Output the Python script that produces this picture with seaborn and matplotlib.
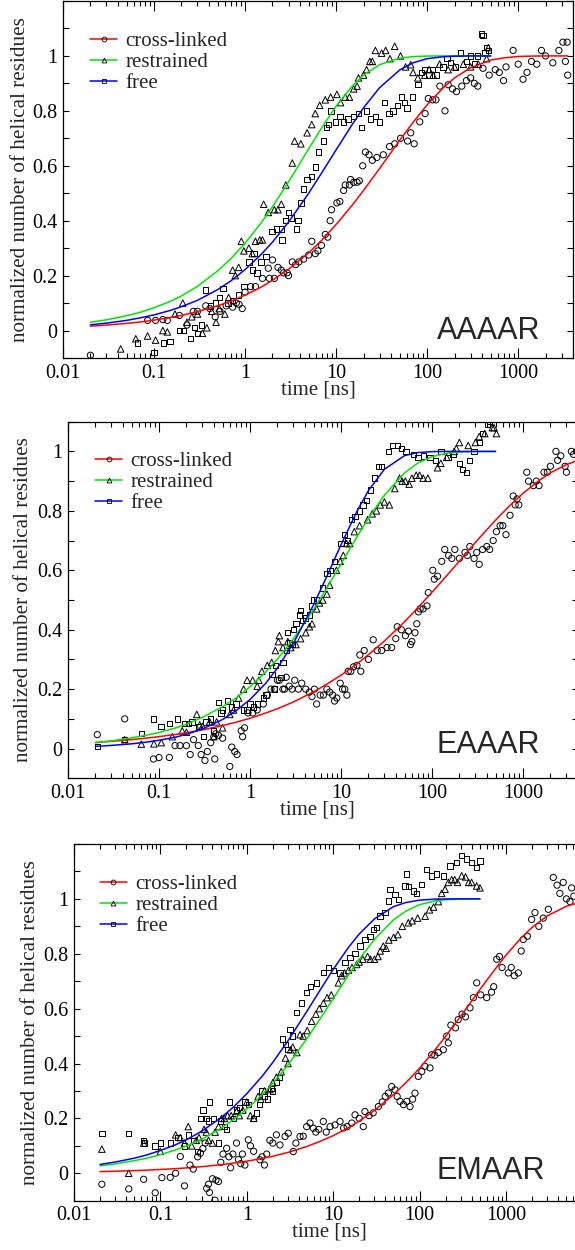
import matplotlib
matplotlib.use("Agg")
import matplotlib.pyplot as plt
from matplotlib.lines import Line2D
from matplotlib.ticker import FixedLocator, FixedFormatter, LogLocator, MultipleLocator, NullFormatter
import pandas as pd
import seaborn as sns

# ---------------------------------------------------------------- data
SERIES = ["cross-linked", "restrained", "free"]
MARKERS = {"cross-linked": "o", "restrained": "^", "free": "s"}
MARKER_SIZES = {"cross-linked": 20, "restrained": 22, "free": 15}
LINE_COLORS = {"cross-linked": "#ff0000", "restrained": "#00e600", "free": "#0000ff"}

X_TICKS = [0.01, 0.1, 1, 10, 100, 1000]
X_TICK_LABELS = ["0.01", "0.1", "1", "10", "100", "1000"]
Y_TICKS = [0, 0.2, 0.4, 0.6, 0.8, 1.0]
Y_TICK_LABELS = ["0", "0.2", "0.4", "0.6", "0.8", "1"]

# times (ns) at which the fitted curves are tabulated
FIT_T = [0.02, 0.03, 0.05, 0.07, 0.1, 0.15, 0.2, 0.3, 0.5, 0.7, 1, 1.5, 2, 3,
         5, 7, 10, 15, 20, 30, 50, 70, 100, 150, 200, 300, 500]
FIT_T_AAAAR_LONG = FIT_T + [700, 1000, 1500, 2000, 3000, 3500]
FIT_T_EAAAR_LONG = FIT_T + [700, 1000, 1500, 2000, 3000, 4000]
FIT_T_EMAAR_LONG = FIT_T + [700, 1000, 1500, 2000, 3000, 5000, 7000, 10000]

# ---- AAAAR
AAAAR_CROSS = [
    (0.02, -0.09), (0.085, 0.037), (0.104, 0.037), (0.125, 0.04), (0.14, 0.037),
    (0.19, 0.055), (0.23, 0.02), (0.27, 0.07), (0.3, 0.07), (0.37, 0.09),
    (0.41, 0.08), (0.47, 0.05), (0.53, 0.07), (0.62, 0.09), (0.73, 0.085),
    (0.8, 0.1), (0.86, 0.095), (0.93, 0.08), (1.0, 0.14), (1.15, 0.16),
    (1.3, 0.16), (1.55, 0.19), (1.8, 0.227), (1.85, 0.19), (2.0, 0.257),
    (2.1, 0.19), (2.3, 0.23), (2.5, 0.22), (2.65, 0.21), (2.9, 0.21),
    (3.0, 0.2), (3.3, 0.25), (3.6, 0.24), (3.9, 0.25), (4.4, 0.26),
    (5.0, 0.275), (5.4, 0.325), (5.9, 0.28), (6.3, 0.29), (6.9, 0.31),
    (7.6, 0.35), (8.1, 0.34), (8.6, 0.40), (8.9, 0.44), (10.2, 0.465),
    (11, 0.47), (12.1, 0.51), (12.6, 0.53), (14, 0.53), (14.4, 0.55),
    (15.6, 0.54), (17, 0.54), (18, 0.545), (19.6, 0.6), (21, 0.65),
    (23, 0.64), (25, 0.62), (28, 0.63), (33, 0.64), (38.6, 0.67),
    (44, 0.68), (51, 0.70), (61, 0.69), (66, 0.72), (72, 0.68),
    (83, 0.76), (95, 0.79), (103, 0.845), (115, 0.84), (125, 0.84),
    (138, 0.89), (157, 0.80), (170, 0.895), (190, 0.88), (210, 0.87),
    (240, 0.89), (270, 0.91), (300, 0.92), (330, 0.90), (360, 0.89),
    (410, 0.955), (480, 0.93), (560, 0.95), (620, 0.94), (690, 0.91),
    (735, 0.96), (880, 1.02), (1000, 0.97), (1130, 0.915), (1250, 0.94),
    (1400, 0.98), (1600, 0.97), (1800, 1.02), (2000, 1.0), (2400, 0.975),
    (2800, 1.02), (3100, 1.05), (3300, 0.98), (3450, 1.05), (3500, 0.93),
]
AAAAR_RESTR = [
    (0.043, -0.067), (0.063, -0.03), (0.085, -0.02), (0.104, -0.035), (0.125, 0.0),
    (0.14, -0.005), (0.17, 0.06), (0.207, 0.1), (0.23, 0.03), (0.26, 0.05),
    (0.3, 0.06), (0.34, -0.01), (0.38, 0.01), (0.43, 0.07), (0.48, 0.03),
    (0.52, 0.08), (0.6, 0.06), (0.66, 0.12), (0.73, 0.22), (0.78, 0.2),
    (0.85, 0.23), (0.91, 0.325), (0.97, 0.29), (1.1, 0.3), (1.2, 0.28),
    (1.3, 0.325), (1.45, 0.33), (1.55, 0.33), (1.6, 0.46), (1.8, 0.43),
    (2.1, 0.44), (2.3, 0.44), (2.5, 0.46), (2.8, 0.53), (3.3, 0.61),
    (3.5, 0.69), (4.1, 0.68), (4.8, 0.72), (5.4, 0.75), (5.9, 0.79),
    (6.6, 0.82), (7.6, 0.84), (8.7, 0.85), (10.2, 0.86), (11.2, 0.83),
    (12.6, 0.85), (14, 0.85), (15.6, 0.88), (17, 0.89), (17.6, 0.92),
    (20, 0.93), (21.6, 0.95), (23.5, 0.98), (25, 0.98), (27, 1.02),
    (31.6, 1.01), (35, 1.02), (39, 0.99), (44, 1.035), (51, 1.0),
    (58, 0.96), (66, 0.968), (70, 0.94), (79, 0.92), (94, 0.93),
    (105, 0.95), (116, 0.93), (137, 0.97), (170, 0.95), (200, 0.96),
    (250, 0.97), (300, 0.96), (365, 0.97), (450, 0.99), (470, 1.03),
]
AAAAR_FREE = [
    (0.066, -0.045), (0.1, -0.08), (0.128, -0.045), (0.15, -0.04), (0.19, 0.0),
    (0.21, 0.0), (0.25, -0.03), (0.28, 0.01), (0.3, -0.01), (0.33, 0.02),
    (0.37, 0.147), (0.42, 0.09), (0.47, 0.1), (0.52, 0.12), (0.57, 0.153),
    (0.65, 0.1), (0.73, 0.11), (0.85, 0.13), (0.97, 0.16), (1.1, 0.25),
    (1.2, 0.22), (1.25, 0.28), (1.35, 0.21), (1.5, 0.25), (1.7, 0.27),
    (1.97, 0.36), (2.2, 0.37), (2.5, 0.37), (2.55, 0.33), (2.8, 0.40),
    (3.0, 0.43), (3.2, 0.41), (3.7, 0.37), (3.8, 0.40), (4.1, 0.465),
    (4.4, 0.515), (4.8, 0.55), (5.4, 0.56), (5.9, 0.595), (6.4, 0.65),
    (7.3, 0.69), (7.9, 0.74), (8.2, 0.75), (8.8, 0.8), (9.8, 0.76),
    (11, 0.78), (12, 0.76), (13.5, 0.77), (15.5, 0.78), (17.6, 0.79),
    (19, 0.74), (21.6, 0.8), (24, 0.77), (27, 0.78), (30, 0.76),
    (34, 0.83), (38, 0.79), (42, 0.8), (47, 0.82), (52, 0.85),
    (56, 0.83), (60, 0.81), (69, 0.85), (79, 0.895), (87, 0.94),
    (93, 0.95), (105, 0.93), (115, 0.95), (127, 0.93), (150, 0.96),
    (165, 0.99), (180, 0.975), (205, 0.96), (231, 1.01), (270, 0.98),
    (300, 1.0), (330, 0.97), (360, 1.0), (394, 1.08), (410, 1.075),
    (430, 1.01), (450, 1.03), (470, 1.02),
]
AAAAR_FIT_CROSS = [0.016, 0.020, 0.026, 0.031, 0.038, 0.047, 0.055, 0.069, 0.090,
                   0.107, 0.129, 0.158, 0.183, 0.223, 0.283, 0.330, 0.386, 0.456,
                   0.510, 0.590, 0.693, 0.758, 0.822, 0.884, 0.920, 0.957, 0.985,
                   0.993, 0.998, 0.9995, 1.0, 1.0, 1.0]
AAAAR_FIT_RESTR = [0.030, 0.039, 0.054, 0.066, 0.083, 0.106, 0.126, 0.161, 0.217,
                   0.262, 0.318, 0.392, 0.451, 0.541, 0.662, 0.740, 0.817, 0.890,
                   0.930, 0.968, 0.992, 0.9975, 0.9995, 1.0, 1.0, 1.0, 1.0]
AAAAR_FIT_FREE = [0.021, 0.027, 0.037, 0.046, 0.057, 0.073, 0.087, 0.110, 0.149,
                  0.181, 0.222, 0.277, 0.322, 0.395, 0.500, 0.576, 0.658, 0.750,
                  0.811, 0.884, 0.949, 0.975, 0.990, 0.997, 0.999, 1.0, 1.0]

# ---- EAAAR
EAAAR_CROSS = [
    (0.021, 0.047), (0.042, 0.10), (0.087, -0.035), (0.1, -0.03), (0.13, -0.03),
    (0.15, 0.01), (0.17, 0.01), (0.2, 0.01), (0.22, -0.02), (0.24, 0.03),
    (0.27, 0.01), (0.29, -0.02), (0.32, -0.04), (0.34, -0.01), (0.37, 0.02),
    (0.4, 0.04), (0.41, -0.035), (0.42, 0.05), (0.45, 0.045), (0.5, 0.035),
    (0.6, -0.06), (0.63, 0.005), (0.68, -0.01), (0.72, -0.02), (0.8, 0.06),
    (0.83, 0.04), (0.87, 0.07), (0.95, 0.12), (1.07, 0.12), (1.2, 0.13),
    (1.4, 0.15), (1.55, 0.18), (1.7, 0.2), (1.85, 0.2), (2.0, 0.23),
    (2.1, 0.23), (2.3, 0.2), (2.4, 0.2), (2.5, 0.24), (2.7, 0.21),
    (2.9, 0.2), (3.1, 0.23), (3.4, 0.2), (3.7, 0.22), (4.1, 0.2),
    (4.5, 0.19), (4.8, 0.175), (5.1, 0.2), (5.4, 0.15), (5.9, 0.18),
    (6.4, 0.18), (7, 0.2), (7.5, 0.19), (8.1, 0.18), (8.5, 0.16),
    (9, 0.17), (9.8, 0.22), (10.4, 0.2), (11, 0.2), (11.6, 0.18),
    (12, 0.26), (12.8, 0.26), (13.7, 0.275), (15, 0.28), (16.1, 0.315),
    (16.5, 0.26), (18, 0.33), (20, 0.3), (22.6, 0.366), (25, 0.33),
    (28, 0.33), (32, 0.34), (36, 0.34), (40, 0.37), (41.5, 0.41),
    (46, 0.40), (51, 0.38), (55, 0.395), (58, 0.35), (60, 0.36),
    (65, 0.39), (68, 0.42), (71, 0.46), (74, 0.47), (80, 0.47),
    (88, 0.48), (91, 0.525), (102, 0.60), (106, 0.57), (115, 0.58),
    (128, 0.63), (138, 0.67), (152, 0.65), (165, 0.64), (178, 0.67),
    (200, 0.64), (230, 0.66), (245, 0.65), (260, 0.68), (290, 0.64),
    (310, 0.66), (330, 0.62), (360, 0.67), (400, 0.68), (430, 0.67),
    (470, 0.70), (510, 0.73), (560, 0.75), (600, 0.75), (650, 0.72),
    (720, 0.785), (780, 0.85), (820, 0.82), (860, 0.84), (900, 0.82),
    (1100, 0.93), (1150, 0.9), (1300, 0.885), (1400, 0.9), (1500, 0.885),
    (1700, 0.93), (1850, 0.93), (2000, 0.95), (2300, 1.0), (2400, 0.97),
    (2600, 0.985), (2900, 0.95), (3000, 0.93), (3400, 1.0), (3600, 0.99),
    (3900, 1.0),
]
EAAAR_RESTR = [
    (0.042, 0.03), (0.064, 0.015), (0.088, 0.016), (0.106, 0.02), (0.14, 0.04),
    (0.18, 0.06), (0.2, 0.055), (0.26, 0.115), (0.28, 0.08), (0.3, 0.075),
    (0.36, 0.09), (0.4, 0.04), (0.43, 0.09), (0.5, 0.07), (0.6, 0.115),
    (0.66, 0.13), (0.75, 0.17), (0.85, 0.2), (0.93, 0.23), (1.07, 0.23),
    (1.2, 0.21), (1.25, 0.23), (1.35, 0.26), (1.55, 0.28), (1.73, 0.29),
    (1.9, 0.33), (2.05, 0.36), (2.1, 0.38), (2.3, 0.34), (2.6, 0.36),
    (2.8, 0.34), (3.2, 0.35), (3.6, 0.37), (4.1, 0.39), (4.5, 0.41),
    (4.8, 0.42), (5.4, 0.47), (5.8, 0.49), (6.3, 0.5), (7.0, 0.52),
    (7.5, 0.55), (8.9, 0.60), (9.8, 0.63), (10.6, 0.65), (11.5, 0.69),
    (12.5, 0.69), (14, 0.73), (16, 0.75), (19.6, 0.77), (22, 0.79),
    (24.5, 0.80), (27, 0.82), (30, 0.83), (34, 0.82), (39, 0.875),
    (44, 0.91), (47, 0.9), (51, 0.9), (56, 0.89), (60, 0.91),
    (67, 0.92), (73, 0.92), (80, 0.91), (90, 0.91), (115, 0.945),
    (125, 0.96), (145, 0.98), (175, 1.0), (185, 1.01), (200, 1.03),
    (250, 1.02), (300, 1.03), (330, 1.05), (380, 1.06), (460, 1.08),
    (480, 1.08), (510, 1.06),
]
EAAAR_FREE = [
    (0.021, 0.008), (0.042, 0.03), (0.064, 0.05), (0.087, 0.1), (0.105, 0.075),
    (0.13, 0.085), (0.16, 0.1), (0.19, 0.085), (0.21, 0.085), (0.23, 0.09),
    (0.27, 0.075), (0.31, 0.04), (0.33, 0.09), (0.37, 0.1), (0.4, 0.06),
    (0.45, 0.155), (0.48, 0.12), (0.5, 0.13), (0.57, 0.16), (0.63, 0.14),
    (0.7, 0.15), (0.85, 0.13), (0.93, 0.13), (1.0, 0.15), (1.1, 0.14),
    (1.2, 0.15), (1.4, 0.17), (1.5, 0.18), (1.75, 0.25), (1.85, 0.2),
    (1.9, 0.28), (2.2, 0.24), (2.3, 0.29), (2.5, 0.33), (2.6, 0.39),
    (2.7, 0.355), (2.9, 0.35), (3.0, 0.4), (3.2, 0.42), (3.5, 0.45),
    (3.6, 0.465), (3.8, 0.43), (4.1, 0.44), (4.5, 0.45), (4.8, 0.48),
    (5.0, 0.5), (5.4, 0.5), (6.3, 0.54), (7.0, 0.59), (7.6, 0.6),
    (8.5, 0.63), (10, 0.69), (11, 0.72), (11.8, 0.7), (13.1, 0.77),
    (14.3, 0.78), (16, 0.8), (17.5, 0.82), (19, 0.835), (21, 0.87),
    (23.5, 0.91), (26, 0.95), (28, 0.95), (33, 1.0), (37, 1.02),
    (42, 1.02), (46, 1.01), (52, 1.0), (63, 0.99), (70, 0.98),
    (80, 0.985), (95, 0.98), (110, 0.97), (125, 1.0), (150, 0.98),
    (170, 0.99), (200, 0.96), (215, 0.94), (240, 0.93), (260, 0.97),
    (290, 1.0), (330, 1.03), (360, 1.06), (410, 1.09), (430, 1.1),
]
EAAAR_FIT_CROSS = [0.0206, 0.0244, 0.0301, 0.0347, 0.0402, 0.0474, 0.0534, 0.0629,
                   0.0774, 0.0886, 0.102, 0.120, 0.134, 0.157, 0.191, 0.217, 0.247,
                   0.285, 0.316, 0.362, 0.427, 0.474, 0.526, 0.587, 0.631, 0.694,
                   0.769, 0.815, 0.859, 0.902, 0.928, 0.9555, 0.970]
EAAAR_FIT_RESTR = [0.020, 0.026, 0.036, 0.044, 0.054, 0.069, 0.082, 0.105, 0.141,
                   0.170, 0.208, 0.259, 0.301, 0.369, 0.468, 0.541, 0.621, 0.713,
                   0.775, 0.853, 0.928, 0.961, 0.9825, 0.9945, 0.998, 0.9997, 1.0]
EAAAR_FIT_FREE = [0.0077, 0.0106, 0.016, 0.021, 0.028, 0.038, 0.048, 0.066, 0.098,
                  0.127, 0.165, 0.221, 0.271, 0.355, 0.484, 0.580, 0.686, 0.799,
                  0.868, 0.940, 0.986, 0.9962, 0.9993, 1.0, 1.0, 1.0, 1.0]

# ---- EMAAR
EMAAR_CROSS = [
    (0.021, -0.04), (0.043, -0.057), (0.064, -0.022), (0.087, -0.071), (0.104, -0.016),
    (0.13, -0.015), (0.15, 0.0), (0.17, 0.061), (0.19, -0.046), (0.22, 0.03),
    (0.24, 0.015), (0.27, 0.06), (0.29, 0.073), (0.31, 0.09), (0.33, 0.11),
    (0.343, -0.055), (0.36, -0.04), (0.37, -0.07), (0.4, -0.02), (0.428, -0.098),
    (0.44, -0.025), (0.47, -0.03), (0.5, 0.04), (0.53, 0.07), (0.585, 0.091),
    (0.62, 0.06), (0.65, 0.02), (0.69, 0.07), (0.76, 0.11), (0.8, 0.05),
    (0.85, 0.035), (0.89, 0.07), (0.95, 0.03), (1.04, 0.122), (1.1, 0.1),
    (1.2, 0.08), (1.42, 0.049), (1.5, 0.06), (1.6, 0.03), (1.7, 0.07),
    (1.85, 0.12), (2.0, 0.11), (2.2, 0.14), (2.42, 0.103), (2.77, 0.134),
    (3.02, 0.146), (3.45, 0.079), (3.7, 0.11), (4.13, 0.134), (4.5, 0.135),
    (4.93, 0.17), (5.39, 0.183), (5.89, 0.164), (6.3, 0.15), (6.8, 0.16),
    (7.68, 0.189), (8.3, 0.15), (9.2, 0.17), (10.5, 0.176), (12, 0.189),
    (13.2, 0.165), (14.5, 0.17), (16.4, 0.183), (17.9, 0.213), (20, 0.2),
    (22.3, 0.17), (23.3, 0.225), (26, 0.21), (29, 0.22), (33.3, 0.243),
    (37, 0.26), (40, 0.28), (43.5, 0.292), (47.5, 0.316), (51.9, 0.304),
    (55, 0.28), (59.3, 0.262), (65, 0.25), (71, 0.262), (77.5, 0.243),
    (83, 0.27), (88.5, 0.292), (96.6, 0.353), (106, 0.371), (115, 0.39),
    (132, 0.384), (138, 0.432), (150, 0.43), (165, 0.44), (188, 0.45),
    (215, 0.475), (206, 0.5), (230, 0.54), (260, 0.53), (280, 0.56),
    (310, 0.58), (340, 0.57), (383, 0.603), (420, 0.64), (458, 0.694),
    (510, 0.65), (598, 0.64), (680, 0.66), (720, 0.68), (780, 0.78),
    (840, 0.79), (900, 0.75), (1064, 0.73), (1150, 0.75), (1250, 0.72),
    (1388, 0.73), (1500, 0.81), (1585, 0.852), (1770, 0.864), (1980, 0.925),
    (2166, 0.95), (2400, 0.9), (2700, 0.93), (3090, 0.962), (3527, 1.078),
    (3900, 1.05), (4200, 1.02), (4600, 1.06), (5000, 1.0), (5500, 0.99),
    (5750, 1.04), (6100, 1.01),
]
EMAAR_RESTR = [
    (0.021, 0.088), (0.043, 0.0), (0.064, 0.11), (0.1, 0.08), (0.15, 0.14),
    (0.17, 0.13), (0.19, 0.11), (0.21, 0.17), (0.23, 0.1), (0.26, 0.12),
    (0.28, 0.13), (0.32, 0.16), (0.34, 0.15), (0.36, 0.12), (0.4, 0.11),
    (0.43, 0.15), (0.47, 0.17), (0.51, 0.2), (0.55, 0.2), (0.6, 0.21),
    (0.66, 0.21), (0.76, 0.225), (0.82, 0.21), (0.9, 0.23), (1.0, 0.26),
    (1.1, 0.21), (1.2, 0.2), (1.35, 0.28), (1.45, 0.27), (1.6, 0.3),
    (1.85, 0.305), (2.0, 0.33), (2.2, 0.35), (2.5, 0.37), (2.8, 0.42),
    (3.0, 0.40), (3.2, 0.45), (3.4, 0.46), (3.8, 0.44), (4.13, 0.505),
    (4.5, 0.5), (5.0, 0.52), (5.63, 0.554), (6.3, 0.58), (6.9, 0.6),
    (7.7, 0.62), (8.5, 0.64), (9.5, 0.65), (11.5, 0.694), (12.5, 0.72),
    (13.5, 0.73), (15, 0.74), (16.5, 0.75), (18.7, 0.761), (20, 0.77),
    (22, 0.78), (25, 0.79), (27, 0.78), (30, 0.78), (33, 0.79),
    (35, 0.81), (38, 0.828), (41, 0.82), (44, 0.85), (50, 0.86),
    (56, 0.87), (63, 0.9), (74, 0.913), (82, 0.92), (95, 0.93),
    (116, 0.937), (130, 0.96), (145, 0.97), (165, 0.99), (180, 1.02),
    (197, 1.035), (215, 1.06), (235, 1.07), (255, 1.07), (275, 1.06),
    (307, 1.084), (340, 1.08), (370, 1.06), (400, 1.06), (458, 1.047),
    (500, 1.04),
]
EMAAR_FREE = [
    (0.021, 0.146), (0.043, 0.146), (0.064, 0.12), (0.065, 0.11), (0.087, 0.1),
    (0.1, 0.11), (0.13, 0.11), (0.16, 0.13), (0.19, 0.1), (0.21, 0.14),
    (0.24, 0.12), (0.27, 0.08), (0.29, 0.2), (0.31, 0.23), (0.34, 0.2),
    (0.36, 0.19), (0.37, 0.26), (0.41, 0.2), (0.47, 0.11), (0.5, 0.19),
    (0.55, 0.17), (0.58, 0.16), (0.63, 0.26), (0.7, 0.2), (0.76, 0.23),
    (0.82, 0.24), (0.95, 0.26), (1.05, 0.25), (1.2, 0.2), (1.3, 0.22),
    (1.4, 0.25), (1.5, 0.3), (1.6, 0.28), (1.75, 0.27), (1.9, 0.31),
    (2.0, 0.3), (2.2, 0.33), (2.4, 0.35), (2.6, 0.49), (2.8, 0.47),
    (3.0, 0.45), (3.16, 0.524), (3.4, 0.5), (3.78, 0.585), (4.3, 0.62),
    (4.93, 0.658), (5.5, 0.68), (6.44, 0.694), (7.68, 0.731), (8.77, 0.749),
    (10, 0.74), (12, 0.73), (13.7, 0.767), (15.6, 0.786), (17.9, 0.80),
    (20.4, 0.828), (23.3, 0.852), (26.7, 0.864), (29.1, 0.889), (31.8, 0.895),
    (34.8, 0.937), (39.8, 0.95), (43.5, 0.992), (45.4, 1.035), (51.9, 1.017),
    (56.7, 0.998), (67.8, 1.047), (70.9, 1.09), (74, 1.045), (84.6, 1.029),
    (92.5, 1.02), (106, 1.053), (121, 1.108), (138, 1.084), (158, 1.09),
    (188, 1.084), (225, 1.12), (269, 1.133), (307, 1.157), (351, 1.145),
    (401, 1.133), (458, 1.114), (500, 1.138),
]
EMAAR_FIT_CROSS = [0.006, 0.0074, 0.0096, 0.0114, 0.0137, 0.0168, 0.0195, 0.024,
                   0.031, 0.037, 0.044, 0.054, 0.062, 0.076, 0.098, 0.116, 0.137,
                   0.166, 0.190, 0.229, 0.287, 0.331, 0.383, 0.449, 0.499, 0.573,
                   0.670, 0.732, 0.795, 0.858, 0.896, 0.938, 0.973, 0.987, 0.994]
EMAAR_FIT_RESTR = [0.027, 0.034, 0.046, 0.055, 0.068, 0.085, 0.099, 0.124, 0.163,
                   0.195, 0.234, 0.286, 0.328, 0.395, 0.492, 0.561, 0.636, 0.722,
                   0.780, 0.852, 0.924, 0.956, 0.979, 0.9923, 0.9968, 0.9993, 1.0]
EMAAR_FIT_FREE = [0.032, 0.041, 0.055, 0.067, 0.083, 0.104, 0.122, 0.153, 0.202,
                  0.241, 0.290, 0.353, 0.404, 0.483, 0.592, 0.666, 0.743, 0.823,
                  0.872, 0.927, 0.972, 0.987, 0.9954, 0.999, 0.9998, 1.0, 1.0]

# ---------------------------------------------------------------- panels
PANELS = [
    dict(name="AAAAR",
         points={"cross-linked": AAAAR_CROSS, "restrained": AAAAR_RESTR, "free": AAAAR_FREE},
         fits={"cross-linked": (FIT_T_AAAAR_LONG, AAAAR_FIT_CROSS),
               "restrained": (FIT_T, AAAAR_FIT_RESTR),
               "free": (FIT_T, AAAAR_FIT_FREE)},
         rect_px=(63, 1, 510, 357), xmax=4000, ymax=1.2,
         legend_xy=(0.053, 0.915), name_xy=(0.733, 0.053),
         xlabel_x=0.50, ylabel_x=-0.064),
    dict(name="EAAAR",
         points={"cross-linked": EAAAR_CROSS, "restrained": EAAAR_RESTR, "free": EAAAR_FREE},
         fits={"cross-linked": (FIT_T_EAAAR_LONG, EAAAR_FIT_CROSS),
               "restrained": (FIT_T, EAAAR_FIT_RESTR),
               "free": (FIT_T, EAAAR_FIT_FREE)},
         rect_px=(68, 421.7, 509.8, 356.6), xmax=4000, ymax=1.1,
         legend_xy=(0.053, 0.917), name_xy=(0.722, 0.071),
         xlabel_x=0.49, ylabel_x=-0.068),
    dict(name="EMAAR",
         points={"cross-linked": EMAAR_CROSS, "restrained": EMAAR_RESTR, "free": EMAAR_FREE},
         fits={"cross-linked": (FIT_T_EMAAR_LONG, EMAAR_FIT_CROSS),
               "restrained": (FIT_T, EMAAR_FIT_RESTR),
               "free": (FIT_T, EMAAR_FIT_FREE)},
         rect_px=(74, 844, 518.4, 356.7), xmax=10000, ymax=1.2,
         legend_xy=(0.050, 0.915), name_xy=(0.700, 0.061),
         xlabel_x=0.492, ylabel_x=-0.066),
]

# ---------------------------------------------------------------- style
sns.set_style("ticks")
plt.rcParams["font.family"] = ["Liberation Serif", "DejaVu Serif"]
plt.rcParams["axes.linewidth"] = 0.9
plt.rcParams["axes.edgecolor"] = "black"
plt.rcParams["xtick.color"] = "black"
plt.rcParams["ytick.color"] = "black"

FIG_W, FIG_H = 575, 1250
fig = plt.figure(figsize=(FIG_W / 100, FIG_H / 100), dpi=100)

for panel in PANELS:
    left, top, width, height = panel["rect_px"]
    ax = fig.add_axes([left / FIG_W, (FIG_H - top - height) / FIG_H,
                       width / FIG_W, height / FIG_H])
    ax.set_xscale("log")

    rows = []
    for s in SERIES:
        for t, v in panel["points"][s]:
            rows.append({"time": t, "value": v, "series": s})
    df = pd.DataFrame(rows)

    for s in SERIES:
        sub = df[df["series"] == s]
        sns.scatterplot(data=sub, x="time", y="value", marker=MARKERS[s],
                        s=MARKER_SIZES[s], facecolor="none", edgecolor="black",
                        linewidth=0.7, legend=False, ax=ax, zorder=2)

    for s in SERIES:
        ft, fv = panel["fits"][s]
        sns.lineplot(x=ft, y=fv, color=LINE_COLORS[s], linewidth=1.1,
                     estimator=None, legend=False, ax=ax, zorder=3)

    ax.set_xlim(0.01, panel["xmax"])
    ax.set_ylim(-0.1, panel["ymax"])

    ax.xaxis.set_major_locator(FixedLocator(X_TICKS))
    ax.xaxis.set_major_formatter(FixedFormatter(X_TICK_LABELS))
    ax.xaxis.set_minor_locator(LogLocator(base=10, subs=range(2, 10), numticks=60))
    ax.xaxis.set_minor_formatter(NullFormatter())
    ax.yaxis.set_major_locator(FixedLocator(Y_TICKS))
    ax.yaxis.set_major_formatter(FixedFormatter(Y_TICK_LABELS))
    ax.yaxis.set_minor_locator(MultipleLocator(0.1))

    ax.tick_params(which="both", direction="in", top=True, right=True,
                   width=0.8, labelsize=14.5)
    ax.tick_params(axis="x", which="major", length=7, pad=4)
    ax.tick_params(axis="x", which="minor", length=3.5)
    ax.tick_params(axis="y", which="both", length=4.3, pad=4)

    ax.set_xlabel("time [ns]", fontsize=15)
    ax.set_ylabel("normalized number of helical residues", fontsize=15.2)
    ax.xaxis.set_label_coords(panel["xlabel_x"], -0.062)
    ax.xaxis.label.set_verticalalignment("top")
    ax.yaxis.set_label_coords(panel["ylabel_x"], 0.5)

    handles = [Line2D([0], [0], color=LINE_COLORS[s], linewidth=1.1,
                      marker=MARKERS[s], markersize=3.5, markerfacecolor="none",
                      markeredgecolor="black", markeredgewidth=0.6)
               for s in SERIES]
    ax.legend(handles, SERIES, loc="upper left", bbox_to_anchor=panel["legend_xy"],
              frameon=False, borderpad=0, borderaxespad=0, handlelength=1.3,
              handletextpad=0.4, labelspacing=0.07, fontsize=15)

    ax.text(panel["name_xy"][0], panel["name_xy"][1], panel["name"],
            transform=ax.transAxes, ha="left", va="baseline",
            fontsize=22, family=["Liberation Sans", "DejaVu Sans"])

fig.savefig("out.png", dpi=100)
